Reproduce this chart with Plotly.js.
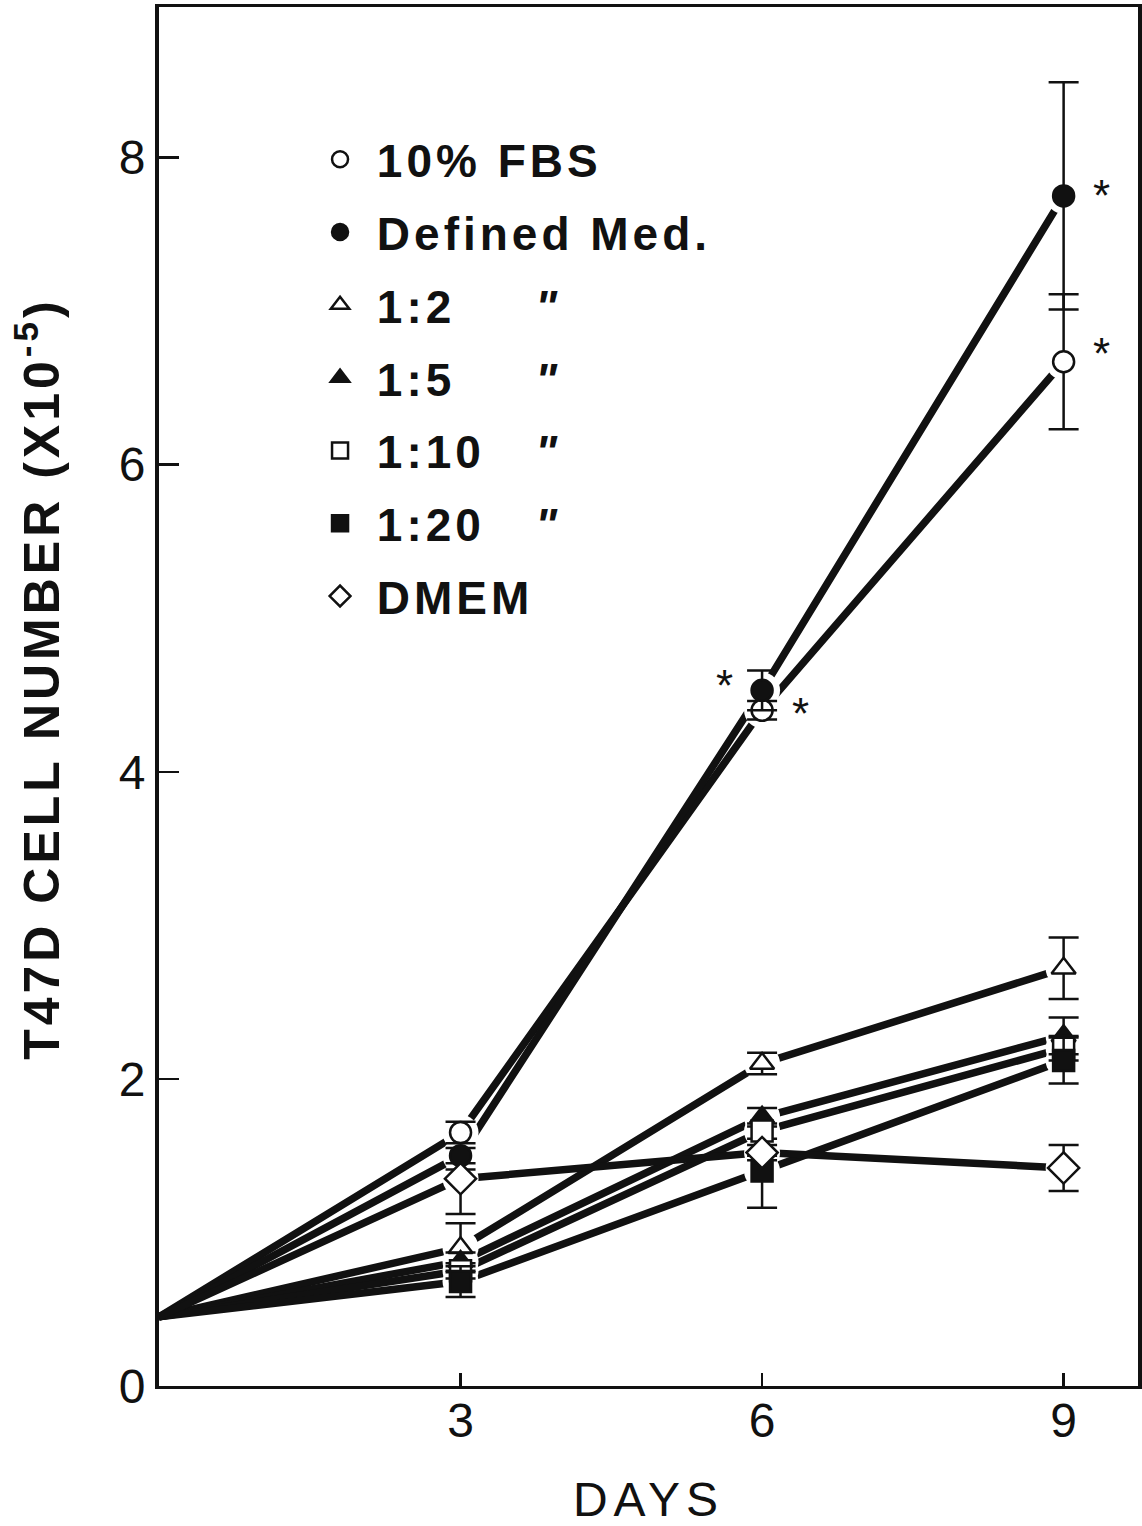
<!DOCTYPE html>
<html>
<head>
<meta charset="utf-8">
<script src="https://cdn.plot.ly/plotly-3.0.1.min.js"></script>
<style>
  html, body { margin: 0; padding: 0; background: #fff; }
  #chart { width: 1142px; height: 1526px; }
  .legendtext { letter-spacing: 4px; }
  .ytitle { letter-spacing: 4px; }
  .xtitle { letter-spacing: 6px; }
</style>
</head>
<body>
<div id="chart"></div>
<script>
// ---- data ----
const days = [0, 3, 6, 9];
const markerDays = [3, 6, 9];

const seriesNames = [
  "\u00a010% FBS",
  "\u00a0Defined Med.",
  "\u00a01:2\u2007\u00a0\u00a0\u00a0<i>\"</i>",
  "\u00a01:5\u2007\u00a0\u00a0\u00a0<i>\"</i>",
  "\u00a01:10\u00a0\u00a0\u00a0<i>\"</i>",
  "\u00a01:20\u00a0\u00a0\u00a0<i>\"</i>",
  "\u00a0DMEM"
];

const fbs     = [0.45, 1.65, 4.40, 6.67];
const defMed  = [0.45, 1.50, 4.53, 7.75];
const r1to2   = [0.45, 0.90, 2.10, 2.72];
const r1to5   = [0.45, 0.81, 1.75, 2.28];
const r1to10  = [0.45, 0.75, 1.66, 2.20];
const r1to20  = [0.45, 0.68, 1.40, 2.12];
const dmem    = [0.45, 1.35, 1.52, 1.42];

// error bars at days 3, 6, 9 (plus / minus)
const fbsErrP    = [0.07, 0.06, 0.44];
const fbsErrM    = [0.07, 0.06, 0.44];
const defErrP    = [0.05, 0.13, 0.74];
const defErrM    = [0.05, 0.13, 0.74];
const r1to2ErrP  = [0.16, 0.07, 0.20];
const r1to2ErrM  = [0.16, 0.07, 0.20];
const r1to5ErrP  = [0.06, 0.06, 0.12];
const r1to5ErrM  = [0.06, 0.06, 0.12];
const r1to10ErrP = [0.05, 0.05, 0.08];
const r1to10ErrM = [0.05, 0.05, 0.08];
const r1to20ErrP = [0.10, 0.10, 0.15];
const r1to20ErrM = [0.10, 0.24, 0.15];
const dmemErrP   = [0.06, 0.05, 0.15];
const dmemErrM   = [0.23, 0.05, 0.15];

// significance asterisks: day, series value
const starDays   = [9, 9, 6, 6];
const starVals   = [defMed[3], fbs[3], defMed[2], fbs[2]];
const starSide   = [1, 1, -1, 1];
const starLift   = [0, 8, 5, -3];

const xTickVals = [3, 6, 9];
const yTickVals = [0, 2, 4, 6, 8];

// ---- styles ----
const ink = "#111111";
const FONT = "Liberation Sans, Arial, sans-serif";
const symbols = ["circle", "circle", "triangle-up", "triangle-up", "square", "square", "diamond"];
const fills   = ["#ffffff", ink, "#ffffff", ink, "#ffffff", ink, "#ffffff"];
const values  = [fbs, defMed, r1to2, r1to5, r1to10, r1to20, dmem];
const errP    = [fbsErrP, defErrP, r1to2ErrP, r1to5ErrP, r1to10ErrP, r1to20ErrP, dmemErrP];
const errM    = [fbsErrM, defErrM, r1to2ErrM, r1to5ErrM, r1to10ErrM, r1to20ErrM, dmemErrM];

const traces = [];
// connecting lines (start at day 0)
values.forEach(v => {
  traces.push({
    x: days, y: v, type: "scatter", mode: "lines",
    line: { color: ink, width: 7.5 },
    showlegend: false, hoverinfo: "skip"
  });
});
// white halos to open gaps around the markers
values.forEach(v => {
  traces.push({
    x: markerDays, y: v.slice(1), type: "scatter", mode: "markers",
    marker: { symbol: "circle", size: 36, color: "#ffffff", opacity: 1, line: { color: "#ffffff", width: 0 } },
    showlegend: false, hoverinfo: "skip"
  });
});
// markers with error bars (legend entries)
values.forEach((v, i) => {
  traces.push({
    x: markerDays, y: v.slice(1), type: "scatter", mode: "markers",
    name: seriesNames[i],
    legendgroup: "g" + i,
    marker: {
      symbol: symbols[i], size: symbols[i] === "diamond" ? 24 : 21,
      color: fills[i], line: { color: ink, width: 2.5 }
    },
    error_y: {
      type: "data", symmetric: false,
      array: errP[i], arrayminus: errM[i],
      color: ink, thickness: 2.5, width: 15
    }
  });
});

const annotations = starDays.map((d, i) => ({
  x: d, y: starVals[i], xref: "x", yref: "y",
  text: "*", showarrow: false,
  xshift: starSide[i] * 38, yshift: starLift[i],
  font: { family: FONT, size: 44, color: ink }
}));

const layout = {
  width: 1142, height: 1526,
  paper_bgcolor: "#ffffff", plot_bgcolor: "#ffffff",
  margin: { l: 159, r: 4, t: 7, b: 140 },
  showlegend: true,
  legend: {
    x: 0.1645, y: 0.916, xanchor: "left", yanchor: "top",
    font: { family: FONT, size: 46, color: ink, weight: "bold" },
    traceorder: "grouped", tracegroupgap: 10,
    bgcolor: "rgba(0,0,0,0)", borderwidth: 0
  },
  xaxis: {
    range: [0, 9.74], tickvals: xTickVals, ticktext: xTickVals.map(String),
    ticks: "inside", ticklen: 13, tickwidth: 2.5, tickcolor: ink,
    showline: true, linewidth: 3, linecolor: ink, mirror: true,
    showgrid: false, zeroline: false,
    tickfont: { family: FONT, size: 48, color: ink },
    ticklabelstandoff: -10,
    title: { text: "DAYS", standoff: 52,
      font: { family: FONT, size: 48, color: ink } }
  },
  yaxis: {
    range: [0, 8.98], tickvals: yTickVals, ticktext: yTickVals.map(String),
    ticks: "inside", ticklen: 20, tickwidth: 2.5, tickcolor: ink,
    showline: true, linewidth: 4, linecolor: ink, mirror: true,
    showgrid: false, zeroline: false,
    tickfont: { family: FONT, size: 48, color: ink },
    ticklabelstandoff: 0,
    title: { text: "<span>\u00a0\u00a0</span>T47D CELL NUMBER (X10<sup>-5</sup>)", standoff: 44,
      font: { family: FONT, size: 50, color: ink, weight: "bold" } }
  },
  annotations: annotations
};

Plotly.newPlot("chart", traces, layout, { displayModeBar: false, staticPlot: true });
</script>
</body>
</html>
